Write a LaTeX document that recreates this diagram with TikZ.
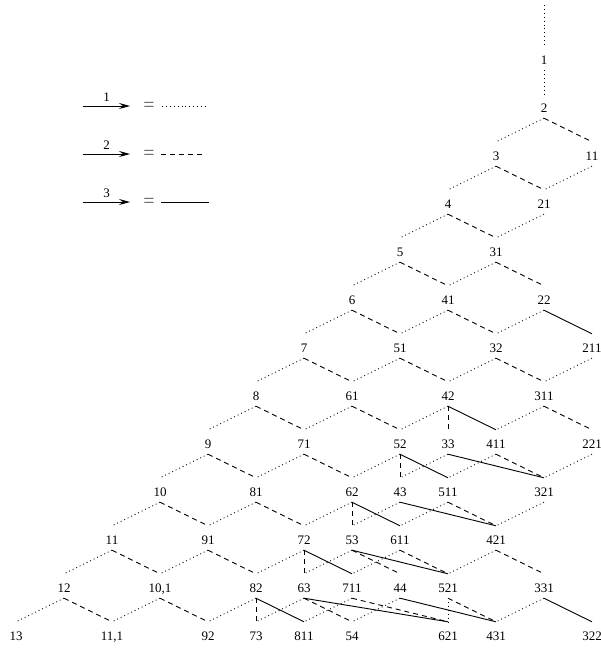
\documentclass[tikz,border=0pt]{standalone}
\usepackage{fontspec}
\setmainfont{Liberation Serif}
\usetikzlibrary{arrows.meta}
\tikzset{
  lab/.style={inner sep=0pt, minimum height=24pt, text height=8.6pt, text depth=0pt, font=\fontsize{13}{15}\selectfont},
  base/.style={line width=0.9pt, line cap=butt},
  o/.style={base, dash pattern=on 0.9pt off 3pt},
  a/.style={base, dash pattern=on 5pt off 4pt},
  s/.style={base},
  arr/.style={base, -{Stealth[length=11pt,width=6pt,inset=4pt]}},
  eq/.style={inner sep=0pt, font=\fontsize{20}{22}\selectfont, text=black!65},
  num/.style={inner sep=0pt, font=\fontsize{13}{15}\selectfont}
}
\newcommand\bedge[3]{\draw[#1] (#2.south) -- (#3.north);}
\newcommand\nd[3]{\node[lab] (r#1k#2) at ({16+48*#2},{58+48*#1}) {\raisebox{-2pt}[8.6pt][0pt]{#3}};}
\begin{document}
\begin{tikzpicture}[x=1pt,y=-1pt]
\useasboundingbox (0,0) rectangle (601,648);
% legend
\coordinate (la1) at (83,106); \coordinate (lb1) at (130,106);
\coordinate (la2) at (83,154); \coordinate (lb2) at (130,154);
\coordinate (la3) at (83,202); \coordinate (lb3) at (130,202);
\draw[arr] (la1) -- node[num, above=4pt] {1} (lb1);
\draw[arr] (la2) -- node[num, above=4pt] {2} (lb2);
\draw[arr] (la3) -- node[num, above=4pt] {3} (lb3);
\node[eq] (e1) at (149,107) {=};
\node[eq] (e2) at (149,155) {=};
\node[eq] (e3) at (149,203) {=};
\coordinate (lc1) at (162,106); \coordinate (ld1) at (207,106);
\coordinate (lc2) at (161,154); \coordinate (ld2) at (205,154);
\coordinate (lc3) at (161,202); \coordinate (ld3) at (209,202);
\draw[o] (lc1) -- (ld1);
\draw[a] (lc2) -- (ld2);
\draw[s] (lc3) -- (ld3);
% nodes
\nd{0}{11}{1}
\nd{1}{11}{2}
\nd{2}{10}{3} \nd{2}{12}{11}
\nd{3}{9}{4} \nd{3}{11}{21}
\nd{4}{8}{5} \nd{4}{10}{31}
\nd{5}{7}{6} \nd{5}{9}{41} \nd{5}{11}{22}
\nd{6}{6}{7} \nd{6}{8}{51} \nd{6}{10}{32} \nd{6}{12}{211}
\nd{7}{5}{8} \nd{7}{7}{61} \nd{7}{9}{42} \nd{7}{11}{311}
\nd{8}{4}{9} \nd{8}{6}{71} \nd{8}{8}{52} \nd{8}{9}{33} \nd{8}{10}{411} \nd{8}{12}{221}
\nd{9}{3}{10} \nd{9}{5}{81} \nd{9}{7}{62} \nd{9}{8}{43} \nd{9}{9}{511} \nd{9}{11}{321}
\nd{10}{2}{11} \nd{10}{4}{91} \nd{10}{6}{72} \nd{10}{7}{53} \nd{10}{8}{611} \nd{10}{10}{421}
\nd{11}{1}{12} \nd{11}{3}{10,1} \nd{11}{5}{82} \nd{11}{6}{63} \nd{11}{7}{711} \nd{11}{8}{44} \nd{11}{9}{521} \nd{11}{11}{331}
\nd{12}{0}{13} \nd{12}{2}{11,1} \nd{12}{4}{92} \nd{12}{5}{73} \nd{12}{6}{811} \nd{12}{7}{54} \nd{12}{9}{621} \nd{12}{10}{431} \nd{12}{12}{322}
% top
\coordinate (top) at (544,5);
\draw[o] (top) -- (r0k11.north);
% edges
\bedge{o}{r0k11}{r1k11}
\bedge{o}{r1k11}{r2k10} \bedge{a}{r1k11}{r2k12}
\bedge{o}{r2k10}{r3k9} \bedge{a}{r2k10}{r3k11} \bedge{o}{r2k12}{r3k11}
\bedge{o}{r3k9}{r4k8} \bedge{a}{r3k9}{r4k10} \bedge{o}{r3k11}{r4k10}
\bedge{o}{r4k8}{r5k7} \bedge{a}{r4k8}{r5k9} \bedge{o}{r4k10}{r5k9} \bedge{a}{r4k10}{r5k11}
\bedge{o}{r5k7}{r6k6} \bedge{a}{r5k7}{r6k8} \bedge{o}{r5k9}{r6k8} \bedge{a}{r5k9}{r6k10} \bedge{o}{r5k11}{r6k10} \bedge{s}{r5k11}{r6k12}
\bedge{o}{r6k6}{r7k5} \bedge{a}{r6k6}{r7k7} \bedge{o}{r6k8}{r7k7} \bedge{a}{r6k8}{r7k9} \bedge{o}{r6k10}{r7k9} \bedge{a}{r6k10}{r7k11} \bedge{o}{r6k12}{r7k11}
\bedge{o}{r7k5}{r8k4} \bedge{a}{r7k5}{r8k6} \bedge{o}{r7k7}{r8k6} \bedge{a}{r7k7}{r8k8} \bedge{o}{r7k9}{r8k8} \bedge{a}{r7k9}{r8k9} \bedge{s}{r7k9}{r8k10} \bedge{o}{r7k11}{r8k10} \bedge{a}{r7k11}{r8k12}
\bedge{o}{r8k4}{r9k3} \bedge{a}{r8k4}{r9k5} \bedge{o}{r8k6}{r9k5} \bedge{a}{r8k6}{r9k7} \bedge{o}{r8k8}{r9k7} \bedge{a}{r8k8}{r9k8} \bedge{s}{r8k8}{r9k9} \bedge{o}{r8k9}{r9k8} \bedge{s}{r8k9}{r9k11} \bedge{o}{r8k10}{r9k9} \bedge{a}{r8k10}{r9k11} \bedge{o}{r8k12}{r9k11}
\bedge{o}{r9k3}{r10k2} \bedge{a}{r9k3}{r10k4} \bedge{o}{r9k5}{r10k4} \bedge{a}{r9k5}{r10k6} \bedge{o}{r9k7}{r10k6} \bedge{a}{r9k7}{r10k7} \bedge{s}{r9k7}{r10k8} \bedge{o}{r9k8}{r10k7} \bedge{s}{r9k8}{r10k10} \bedge{o}{r9k9}{r10k8} \bedge{a}{r9k9}{r10k10} \bedge{o}{r9k11}{r10k10}
\bedge{o}{r10k2}{r11k1} \bedge{a}{r10k2}{r11k3} \bedge{o}{r10k4}{r11k3} \bedge{a}{r10k4}{r11k5} \bedge{o}{r10k6}{r11k5} \bedge{a}{r10k6}{r11k6} \bedge{s}{r10k6}{r11k7} \bedge{o}{r10k7}{r11k6} \bedge{a}{r10k7}{r11k8} \bedge{s}{r10k7}{r11k9} \bedge{o}{r10k8}{r11k7} \bedge{a}{r10k8}{r11k9} \bedge{o}{r10k10}{r11k9} \bedge{a}{r10k10}{r11k11}
\bedge{o}{r11k1}{r12k0} \bedge{a}{r11k1}{r12k2} \bedge{o}{r11k3}{r12k2} \bedge{a}{r11k3}{r12k4} \bedge{o}{r11k5}{r12k4} \bedge{a}{r11k5}{r12k5} \bedge{s}{r11k5}{r12k6} \bedge{o}{r11k6}{r12k5} \bedge{a}{r11k6}{r12k7} \bedge{s}{r11k6}{r12k9} \bedge{o}{r11k7}{r12k6} \bedge{a}{r11k7}{r12k9} \bedge{o}{r11k8}{r12k7} \bedge{s}{r11k8}{r12k10} \bedge{o}{r11k9}{r12k9} \bedge{a}{r11k9}{r12k10} \bedge{o}{r11k11}{r12k10} \bedge{s}{r11k11}{r12k12}
\end{tikzpicture}
\end{document}
